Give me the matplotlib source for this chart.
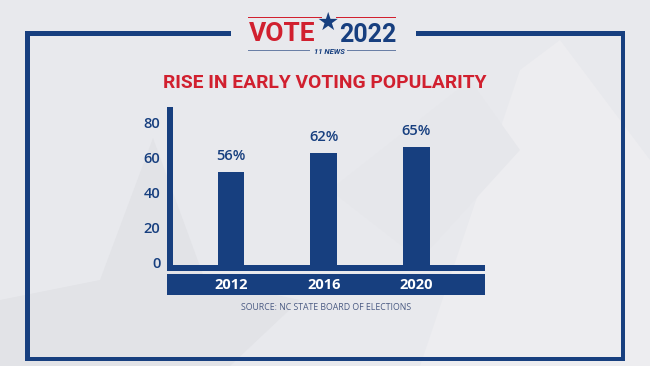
import matplotlib
matplotlib.use("Agg")
import matplotlib.pyplot as plt
from matplotlib.patches import Rectangle, Polygon
import matplotlib.transforms as mtransforms
import numpy as np

# ---- data ----
years = ["2012", "2016", "2020"]
bar_heights = [53, 63.5, 67]          # bar heights as drawn
bar_labels = ["56%", "62%", "65%"]    # printed labels
yticks = [0, 20, 40, 60, 80]
title = "RISE IN EARLY VOTING POPULARITY"
source = "SOURCE: NC STATE BOARD OF ELECTIONS"

NAVY = "#173f7f"
RED = "#d1202f"
BG = "#e8e9ed"

W, H = 650, 366
fig = plt.figure(figsize=(W / 100, H / 100), dpi=100)
fig.patch.set_facecolor(BG)

def fx(px):
    return px / W

def fy(py):
    return 1 - py / H

def rect(x0, y0, x1, y1, color, z=2, **kw):
    fig.add_artist(Rectangle((fx(x0), fy(y1)), fx(x1) - fx(x0), (y1 - y0) / H,
                             transform=fig.transFigure, color=color, zorder=z, lw=0, **kw))

def poly(pts, color, z=-2):
    fig.add_artist(Polygon([(fx(x), fy(y)) for x, y in pts], closed=True,
                           transform=fig.transFigure, color=color, lw=0, zorder=z))

# faint background shapes
poly([(0, 366), (0, 300), (100, 280), (153, 138), (205, 280), (300, 300), (230, 366)], "#e2e3e7")
poly([(420, 366), (520, 70), (560, 40), (650, 160), (650, 366)], "#ededf0")
poly([(330, 190), (470, 80), (520, 150), (420, 260)], "#e6e7eb")

# frame
lw = 4.5
top = 31
rect(25, top, 25 + lw, 361, NAVY)
rect(625 - lw, top, 625, 361, NAVY)
rect(25, 361 - lw, 625, 361, NAVY)
rect(25, top, 231, top + lw, NAVY)
rect(416, top, 625, top + lw, NAVY)

# logo
rect(248, 17, 322, 18.2, RED)
rect(336, 17, 396, 18.2, RED)
rect(248, 49.5, 310, 50.5, "#6a7fa6")
rect(347, 49.5, 396, 50.5, "#6a7fa6")
fig.text(fx(282), fy(34), "VOTE", color=RED, fontsize=19, fontweight="bold",
         family="Roboto", ha="center", va="center")
fig.text(fx(368), fy(35), "2022", color=NAVY, fontsize=18, fontweight="bold",
         family="Roboto", ha="center", va="center")
fig.text(fx(328), fy(23), "★", color=NAVY, fontsize=18, ha="center", va="center",
         family="DejaVu Sans")
fig.text(fx(329), fy(51.5), "11 NEWS", color=NAVY, fontsize=5.5, fontweight="bold",
         style="italic", family="Roboto", ha="center", va="center")

# title
fig.text(fx(325), fy(82.5), title, color=RED, fontsize=13.9, fontweight="bold",
         family="Roboto", ha="center", va="center")

# axes
x_left_px, x_right_px, y_top_px, y_zero_px = 173, 484, 107, 264.5
ax = fig.add_axes([fx(x_left_px), fy(y_zero_px), fx(x_right_px) - fx(x_left_px),
                   (y_zero_px - y_top_px) / H])
ax.set_facecolor("none")
spacing = 92.75
c0 = 231
ax.set_xlim((x_left_px - c0) / spacing, (x_right_px - c0) / spacing)
ax.set_ylim(0, (y_zero_px - y_top_px) / 1.75)
x = np.arange(len(years))
ax.bar(x, bar_heights, width=0.29, color=NAVY, zorder=3)
for xi, h, lab in zip(x, bar_heights, bar_labels):
    ax.annotate(lab, (xi, h), xytext=(0, 6.5), textcoords="offset points",
                ha="center", va="bottom", color=NAVY, fontsize=10.5,
                family="Open Sans", fontweight="semibold")
for s in ax.spines.values():
    s.set_visible(False)
ax.set_xticks([])
ax.set_yticks(yticks)
ax.set_yticklabels([str(t) for t in yticks], color=NAVY, fontsize=10.5,
                   family="Open Sans", fontweight="semibold")
ax.tick_params(axis="y", length=0, pad=9)
offset = mtransforms.ScaledTranslation(0, 1.5 / 72, fig.dpi_scale_trans)
for lbl in ax.get_yticklabels():
    lbl.set_transform(lbl.get_transform() + offset)

# axis lines and category band
rect(167, 107, 173, 270.5, NAVY)
rect(167, 264.5, 484.5, 270.5, NAVY)
rect(167, 274, 484.5, 295, NAVY)
for i, yr in enumerate(years):
    fig.text(fx(c0 + i * spacing), fy(285), yr, color="white", fontsize=10.5,
             fontweight="bold", family="Open Sans", ha="center", va="center")

fig.text(fx(326), fy(307.5), source, color="#4b5b83", fontsize=6.3,
         family="Open Sans", ha="center", va="center")

fig.savefig("out.png", dpi=100, facecolor=BG)
